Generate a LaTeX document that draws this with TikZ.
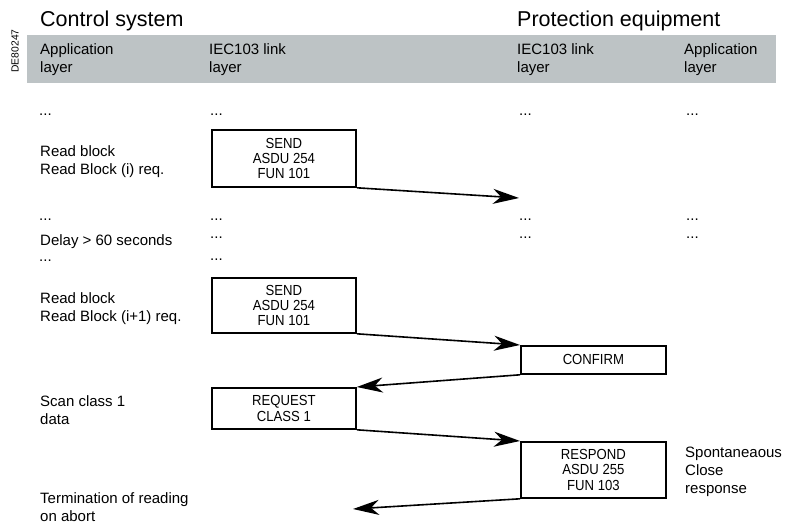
\documentclass[tikz,border=0pt]{standalone}
\usepackage{fontspec}
\setmainfont{Liberation Sans}
\newfontfamily\boxfont[FakeStretch=0.9]{Liberation Sans}
\usetikzlibrary{arrows.meta}
\definecolor{bandgray}{RGB}{189,195,197}

\begin{document}
\begin{tikzpicture}[x=1pt,y=-1pt]
        \tikzstyle{lbl}=[anchor=base west,inner sep=0pt,align=left,font=\fontsize{15}{18}\selectfont]
        \tikzstyle{title}=[anchor=base west,inner sep=0pt,font=\fontsize{21.5}{24}\selectfont]
        \tikzstyle{frame}=[draw,line width=1.8pt,anchor=north west,inner sep=0pt,align=center,minimum width=144pt,font=\boxfont\fontsize{14.6}{15.2}\selectfont]
        \tikzstyle{msg}=[-{Stealth[length=26pt,width=15pt,inset=8pt]},line width=1.6pt]
        \useasboundingbox (0,0) rectangle (792,524);
        \fill[bandgray] (27,35) rectangle (776,83);
        \node[rotate=90,inner sep=0pt,font=\fontsize{10.3}{12}\selectfont] (ref) at (15,51) {DE80247};
        \node[title] (ctrl) at (40,27) {Control system};
        \node[title] (prot) at (517,27) {Protection equipment};
        \node[lbl] (h1) at (40,73) {Application\\layer};
        \node[lbl] (h2) at (209,73) {IEC103 link\\layer};
        \node[lbl] (h3) at (517,73) {IEC103 link\\layer};
        \node[lbl] (h4) at (684,73) {Application\\layer};
        \node[lbl] (d1a) at (39,116) {...};
        \node[lbl] (d1b) at (210,116) {...};
        \node[lbl] (d1c) at (519,116) {...};
        \node[lbl] (d1d) at (686,116) {...};
        \node[lbl] (rb1) at (40,174) {Read block\\Read Block (i) req.};
        \node[frame,minimum height=57pt] (send1) at (211,129) {SEND\\ASDU 254\\FUN 101};
        \coordinate (lost) at (519,198);
        \node[lbl] (d2a) at (39,220) {...};
        \node[lbl] (d2b) at (210,220) {...};
        \node[lbl] (d2c) at (519,220) {...};
        \node[lbl] (d2d) at (686,220) {...};
        \node[lbl] (delay) at (40,245.5) {Delay > 60 seconds};
        \node[lbl] (d3b) at (210,238.5) {...};
        \node[lbl] (d3c) at (519,238.5) {...};
        \node[lbl] (d3d) at (686,238.5) {...};
        \node[lbl] (d4a) at (39,261) {...};
        \node[lbl] (d4b) at (210,260) {...};
        \node[lbl] (rb2) at (40,321) {Read block\\Read Block (i+1) req.};
        \node[frame,minimum height=55pt] (send2) at (211,277) {SEND\\ASDU 254\\FUN 101};
        \node[frame,minimum width=145pt,minimum height=28pt] (conf) at (520,345) {CONFIRM};
        \node[lbl] (scan) at (40,424) {Scan class 1\\data};
        \node[frame,minimum height=41pt] (req) at (211,387) {REQUEST\\CLASS 1};
        \node[frame,minimum width=145pt,minimum height=56pt] (resp) at (520,441) {RESPOND\\ASDU 255\\FUN 103};
        \node[lbl] (spont) at (685,493) {Spontaneaous\\Close\\response};
        \node[lbl] (term) at (40,521) {Termination of reading\\on abort};
        \coordinate (abort) at (353,509);
        \draw[msg] (send1.south east) -- (lost);
        \draw[msg] (send2.south east) -- (conf.north west);
        \draw[msg] (conf.south west) -- (req.north east);
        \draw[msg] (req.south east) -- (resp.north west);
        \draw[msg] (resp.south west) -- (abort);
\end{tikzpicture}
\end{document}
